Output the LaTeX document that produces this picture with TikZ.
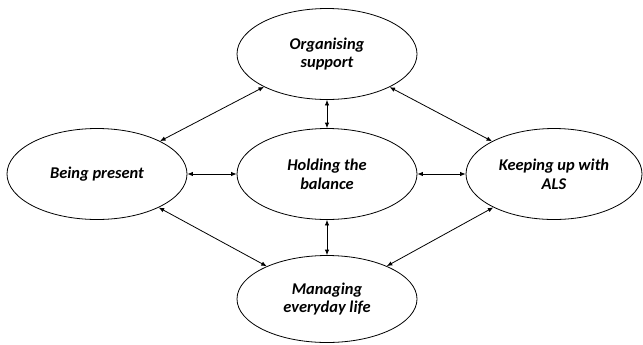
\documentclass[tikz,border=0pt]{standalone}
\usepackage{fontspec}
\setmainfont{Carlito}
\usetikzlibrary{shapes.geometric,arrows.meta}
\begin{document}
\begin{tikzpicture}[x=1bp,y=-1bp,
  theme/.style={ellipse, draw=black, line width=0.8bp, minimum width=180bp,
    minimum height=91bp, inner sep=0pt, align=center,
    font=\fontsize{16.5}{19}\selectfont\bfseries\itshape},
  link/.style={line width=0.8bp, {Latex[length=5.5bp,width=4.5bp]}-{Latex[length=5.5bp,width=4.5bp]}}]
  \useasboundingbox (0,0) rectangle (643,344);
  \node[theme] (org) at (327,54) {Organising\\support};
  \node[theme] (pres) at (97,174) {Being present};
  \node[theme] (hold) at (327,174) {Holding the\\balance};
  \node[theme, minimum width=176bp] (als) at (554,174) {Keeping up with\\ALS};
  \node[theme, minimum height=87bp] (life) at (327,299) {Managing\\everyday life};
  \draw[link] (org) -- (hold);
  \draw[link] (hold) -- (life);
  \draw[link] (pres) -- (hold);
  \draw[link] (hold) -- (als);
  \draw[link] (pres) -- (org);
  \draw[link] (org) -- (als);
  \draw[link] (pres) -- (life);
  \draw[link] (als) -- (life);
\end{tikzpicture}
\end{document}
